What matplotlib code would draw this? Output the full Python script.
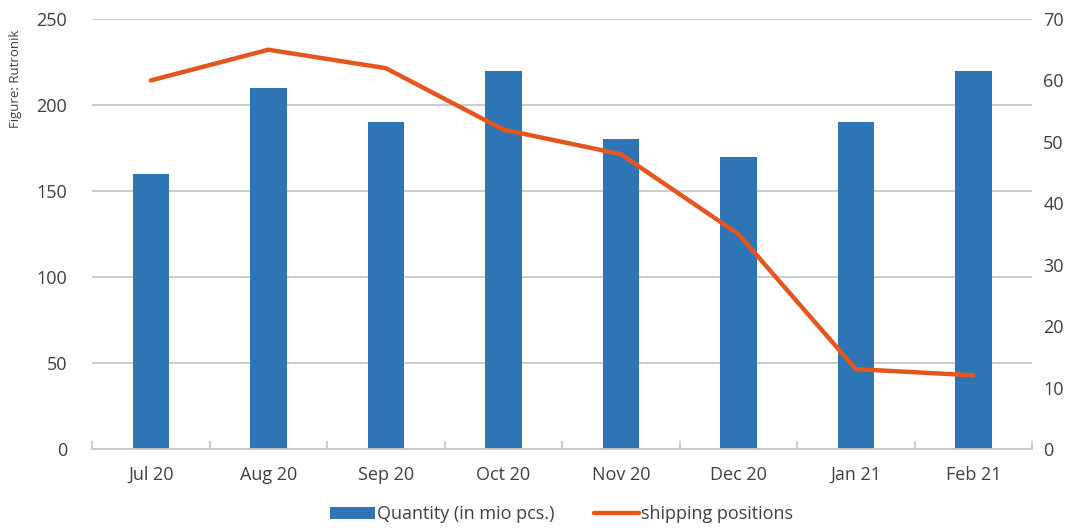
import matplotlib.pyplot as plt
import numpy as np

months = ['Jul 20', 'Aug 20', 'Sep 20', 'Oct 20', 'Nov 20', 'Dec 20', 'Jan 21', 'Feb 21']
quantity = [160, 210, 190, 220, 180, 170, 190, 220]
shipping = [60, 65, 62, 52, 48, 35, 13, 12]

blue = '#2E75B6'
orange = '#E5561E'
grid = '#c8c8c8'
txt = '#404040'

plt.rcParams['font.family'] = ['Open Sans', 'DejaVu Sans']

fig = plt.figure(figsize=(10.84, 5.31), dpi=100)
ax = fig.add_axes([0.0849, 0.1544, 0.8672, 0.8098])
x = np.arange(len(months))

ax.bar(x, quantity, width=0.31, color=blue, zorder=2, label='Quantity (in mio pcs.)')
ax.set_xlim(-0.5, len(months) - 0.5)
ax.set_ylim(0, 250)
ax.set_yticks(range(0, 251, 50))
ax.yaxis.grid(True, color=grid, linewidth=1.3, zorder=0)
ax.set_axisbelow(True)
for s in ['top', 'right', 'left']:
    ax.spines[s].set_visible(False)
ax.spines['bottom'].set_color(grid)
ax.spines['bottom'].set_linewidth(1.3)
ax.set_xticks(x)
ax.set_xticklabels(months)
ax.set_xticks(np.arange(-0.5, len(months), 1), minor=True)
ax.tick_params(axis='x', which='major', length=0, pad=12, labelsize=13, labelcolor=txt)
ax.tick_params(axis='x', which='minor', length=6, color=grid, width=1.3, direction='in')
ax.tick_params(axis='y', length=0, pad=18, labelsize=13, labelcolor=txt)

ax2 = ax.twinx()
ax2.plot(x, shipping, color=orange, linewidth=3.2, solid_capstyle='round', label='shipping positions')
ax2.set_ylim(0, 70)
ax2.set_yticks(range(0, 71, 10))
for s in ax2.spines.values():
    s.set_visible(False)
ax2.tick_params(axis='y', length=0, pad=8, labelsize=13, labelcolor=txt)

h1, l1 = ax.get_legend_handles_labels()
h2, l2 = ax2.get_legend_handles_labels()
fig.legend(h1 + h2, l1 + l2, loc='lower center', bbox_to_anchor=(0.518, -0.016), ncol=2,
           frameon=False, fontsize=13, handlelength=2.5, handletextpad=0.1, columnspacing=2.2,
           labelcolor=txt)

fig.text(0.014, 0.852, 'Figure: Rutronik', rotation=90, ha='center', va='center',
         fontsize=9.5, color=txt)

fig.savefig('out.png', dpi=100)
